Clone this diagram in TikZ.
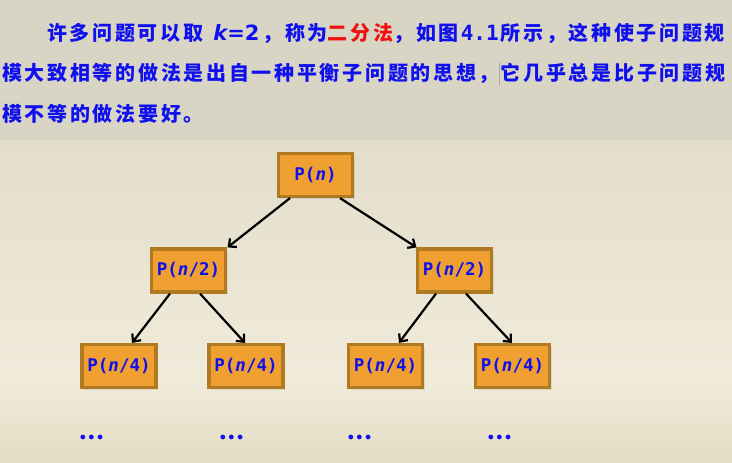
\documentclass[tikz,border=0pt]{standalone}
\usepackage{fontspec}
\usetikzlibrary{arrows.meta,shadows}
\newfontfamily\cjkf[LetterSpace=13.5]{Noto Sans CJK SC}
\newfontfamily\monof{DejaVu Sans Mono}
\newfontfamily\dejavu{DejaVu Sans}
\definecolor{topband}{HTML}{D9D5C5}
\definecolor{bgA}{HTML}{E3DECB}
\definecolor{bgB}{HTML}{F0EBDA}
\definecolor{bgC}{HTML}{E4DCC3}
\definecolor{boxfill}{HTML}{F0A030}
\definecolor{boxline}{HTML}{B07A22}
\definecolor{tblue}{HTML}{1010EE}
\definecolor{tred}{HTML}{F01010}
\tikzset{
  pbox/.style={draw=boxline, line width=3.2pt, fill=boxfill, minimum width=74pt, minimum height=43pt,
    inner sep=0pt, font=\monof\bfseries\fontsize{17.5}{20}\selectfont, text=tblue,
    drop shadow={opacity=0.18, shadow xshift=2pt, shadow yshift=-2pt}},
  cline/.style={anchor=west, inner sep=0pt, text=tblue, font=\cjkf\bfseries\fontsize{20}{24}\selectfont},
  arr/.style={line width=2.2pt, -{Straight Barb[length=6pt,width=11pt,line width=2.2pt]}},
  dots/.style={inner sep=0pt, text=tblue, font=\dejavu\bfseries\fontsize{13.5}{16}\selectfont}
}
\begin{document}
\begin{tikzpicture}[x=1pt,y=-1pt]
\useasboundingbox (0,0) rectangle (732,463);
\fill[topband] (0,0) rectangle (732,140);
\shade[top color=bgA, bottom color=bgB] (0,140) rectangle (732,380);
\shade[top color=bgB, bottom color=bgC] (0,380) rectangle (732,463);
% text
\node[cline] (l1) at (47,33) {许多问题可以取\hspace{10pt}{\dejavu\addfontfeature{LetterSpace=0}\fontsize{21}{24}\selectfont\itshape k\upshape=2}\hspace{3pt}，称为{\color{tred}二分法}，如图\hspace{2pt}{\monof\fontsize{21}{24}\selectfont 4.1}\hspace{2pt}所示，这种使子问题规};
\node[cline] (l2) at (2,73) {模大致相等的做法是出自一种平衡子问题的思想，\hspace{2pt}它几乎总是比子问题规};
\node[cline] (l3) at (2,114) {模不等的做法要好。};
\draw[gray!70, line width=0.8pt] (499,63) -- (499,85);
% boxes
\node[pbox] (r) at (315.5,175) {P(\textit{n})};
\node[pbox] (a) at (188.5,270.5) {P(\textit{n}/2)};
\node[pbox] (b) at (454.5,270.5) {P(\textit{n}/2)};
\node[pbox] (a1) at (119,366) {P(\textit{n}/4)};
\node[pbox] (a2) at (246,366) {P(\textit{n}/4)};
\node[pbox] (b1) at (385.5,366) {P(\textit{n}/4)};
\node[pbox] (b2) at (512.5,366) {P(\textit{n}/4)};
% arrows
\draw[arr] ([xshift=-25.5pt]r.south) -- ([xshift=39pt]a.north);
\draw[arr] ([xshift=24.5pt]r.south) -- ([xshift=-38pt]b.north);
\draw[arr] ([xshift=-18.5pt]a.south) -- ([xshift=13pt]a1.north);
\draw[arr] ([xshift=11.5pt]a.south) -- ([xshift=-1pt]a2.north);
\draw[arr] ([xshift=-18.5pt]b.south) -- ([xshift=13.5pt]b1.north);
\draw[arr] ([xshift=11.5pt]b.south) -- ([xshift=-0.5pt]b2.north);
% dots
\node[dots] (d1) at (91.5,439) {•••};
\node[dots] (d2) at (231.5,439) {•••};
\node[dots] (d3) at (359.5,439) {•••};
\node[dots] (d4) at (499.5,439) {•••};
\end{tikzpicture}
\end{document}
